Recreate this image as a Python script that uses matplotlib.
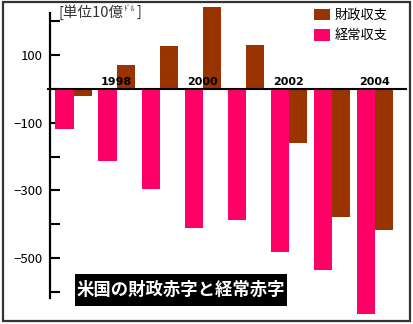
import matplotlib
matplotlib.use("Agg")
import matplotlib.pyplot as plt
from matplotlib.patches import Rectangle

plt.rcParams['font.family'] = ['Noto Sans CJK JP', 'DejaVu Sans']

years = [1997, 1998, 1999, 2000, 2001, 2002, 2003, 2004]
fiscal = [-22, 70, 126, 241, 129, -160, -378, -418]      # 財政収支
current = [-118, -212, -296, -411, -388, -483, -535, -665]  # 経常収支
year_labels = ['1998', '2000', '2002', '2004']
ytick_vals = [200, 100, 0, -100, -200, -300, -400, -500, -600]
ytick_labels = {100: '100', -100: '−100', -300: '−300', -500: '−500'}

BROWN = '#993300'
PINK = '#FF0066'

W, H = 413, 324
fig = plt.figure(figsize=(W / 100, H / 100), dpi=100)

def fx(px):
    return px / W

def fy(py):
    return 1 - py / H

# axes placement (pixel coords)
ax_l, ax_r, ax_t, ax_b = 50, 405, 13, 298
ax = fig.add_axes([fx(ax_l), fy(ax_b), (ax_r - ax_l) / W, (ax_b - ax_t) / H])
ax.set_xlim(-0.546, 7.70)
ax.set_ylim(-618, 224)
ax.patch.set_alpha(0)

x = list(range(len(years)))
bw = 0.42
ax.bar([i - bw / 2 for i in x], current, width=bw, color=PINK, clip_on=False, zorder=2)
ax.bar([i + bw / 2 for i in x], fiscal, width=bw, color=BROWN, clip_on=False, zorder=2)

# zero line
ax.plot([-0.59, 7.72], [0, 0], color='black', lw=1.5, clip_on=False, zorder=3)

for s in ['top', 'right', 'bottom']:
    ax.spines[s].set_visible(False)
ax.spines['left'].set_linewidth(1.6)
ax.spines['left'].set_zorder(4)
ax.set_xticks([])
ax.set_yticks(ytick_vals)
ax.set_yticklabels([ytick_labels.get(v, '') for v in ytick_vals])
ax.tick_params(axis='y', direction='in', length=7, width=1.5, labelsize=9.5, pad=5)

for lab in year_labels:
    i = years.index(int(lab))
    ax.text(i, 4, lab, ha='center', va='bottom', fontsize=8, fontweight='bold',
            family=['DejaVu Sans'], zorder=5)

# unit label (pieces placed one after another)
renderer = fig.canvas.get_renderer()
t1 = fig.text(fx(58), fy(12), '[単位10億', fontsize=10.5, color='#333333', va='center', ha='left')
e1 = t1.get_window_extent(renderer)
t2 = fig.text((e1.x1 + 1) / W, fy(9), 'ﾄﾞﾙ', fontsize=5.5, color='#333333', va='center', ha='left')
e2 = t2.get_window_extent(renderer)
fig.text((e2.x1 + 1) / W, fy(12), ']', fontsize=10.5, color='#333333', va='center', ha='left')

# legend
fig.patches.append(Rectangle((fx(314), fy(20)), 16 / W, 11 / H, transform=fig.transFigure,
                             facecolor=BROWN, edgecolor='none'))
fig.patches.append(Rectangle((fx(314), fy(41)), 16 / W, 12 / H, transform=fig.transFigure,
                             facecolor=PINK, edgecolor='none'))
fig.text(fx(335), fy(15), '財政収支', fontsize=9.5, va='center', ha='left')
fig.text(fx(335), fy(35), '経常収支', fontsize=9.5, va='center', ha='left')

# title box
fig.patches.append(Rectangle((fx(75), fy(306)), (287 - 75) / W, 32 / H, transform=fig.transFigure,
                             facecolor='black', edgecolor='none', zorder=5))
fig.text(fx(181), fy(290), '米国の財政赤字と経常赤字', fontsize=12.5, fontweight='bold',
         color='white', va='center', ha='center', zorder=6)

# frame
fig.patches.append(Rectangle((fx(2.5), fy(321)), (410 - 2.5) / W, (321 - 1.5) / H,
                             transform=fig.transFigure, facecolor='none',
                             edgecolor='#333333', lw=1.6))

fig.savefig('out.png', dpi=100)
